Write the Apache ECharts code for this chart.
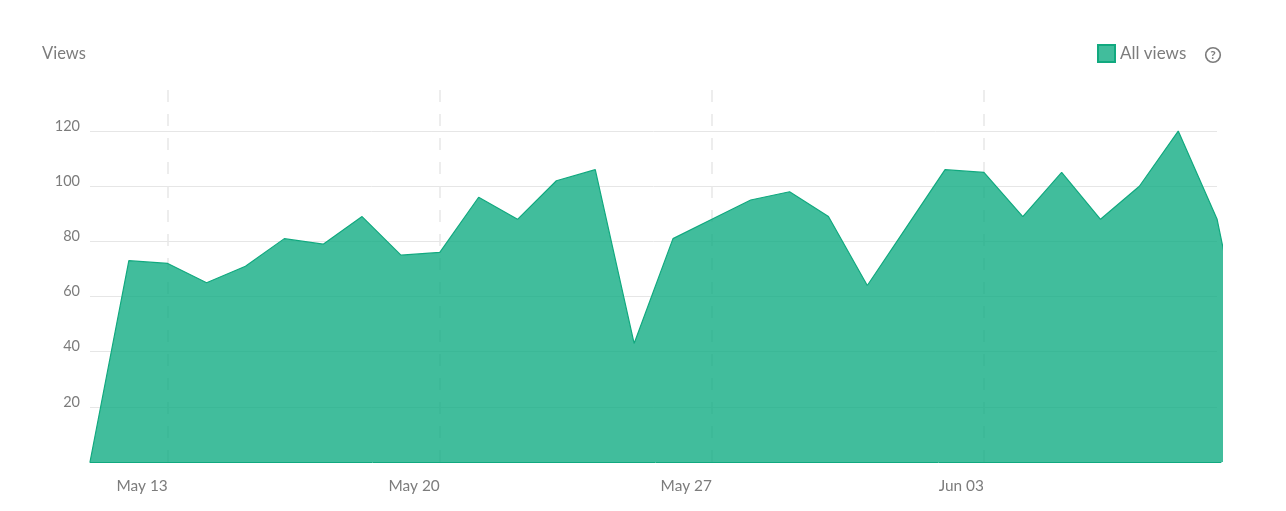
<!DOCTYPE html>
<html><head><meta charset="utf-8">
<style>html,body{margin:0;padding:0;background:#fff}#c{width:1286px;height:511px}</style>
<script src="https://cdn.jsdelivr.net/npm/echarts@6/dist/echarts.min.js"></script>
</head><body><div id="c"></div>
<script>
const dates = ["May 11","May 12","May 13","May 14","May 15","May 16","May 17","May 18","May 19","May 20","May 21","May 22","May 23","May 24","May 25","May 26","May 27","May 28","May 29","May 30","May 31","Jun 01","Jun 02","Jun 03","Jun 04","Jun 05","Jun 06","Jun 07","Jun 08","Jun 09","Jun 10"];
const views = [0,73,72,65,71,81,79,89,75,76,96,88,102,106,43,81,88,95,98,89,64,85,106,105,89,105,88,100,120,88,20];
const weekTicks = [2,9,16,23];
const yTicks = [20,40,60,80,100,120];
const seriesName = "All views";
const yTitle = "Views";
const green = "#11a97f", fill = "#12ad83", grey = "#7c7c7c", font = "Lato";
const yMax = 134.9, xMax = 29.10;

const chart = echarts.init(document.getElementById('c'), null, {renderer:'canvas'});
chart.setOption({
  animation:false,
  title:{text:yTitle,left:42,top:45,padding:0,textStyle:{fontFamily:font,fontSize:16.5,fontWeight:'normal',color:grey}},
  legend:{left:1097,top:44,padding:0,itemWidth:17,itemHeight:17,itemGap:4,icon:'rect',
    data:[seriesName],textStyle:{fontFamily:font,fontSize:17,color:grey}},
  grid:[
    {left:90,top:90,width:1127,height:372},
    {left:90,top:90,width:1131,height:372}
  ],
  xAxis:[
    {gridIndex:0,type:'value',min:0,max:29,show:false,splitLine:{show:false}},
    {gridIndex:1,type:'value',min:0,max:xMax,
      axisLine:{show:true,lineStyle:{color:green,width:1}},
      axisTick:{show:false,customValues:weekTicks},
      axisLabel:{customValues:weekTicks,align:'right',margin:17,fontFamily:font,fontSize:15.4,color:grey,
        formatter:v=>dates[v]},
      splitLine:{show:true,lineStyle:{color:'#e8e8e8',type:[12,12],width:1.5}}}
  ],
  yAxis:[
    {gridIndex:0,type:'value',min:0,max:yMax,axisLine:{show:false},axisTick:{show:false,customValues:yTicks},
      axisLabel:{customValues:yTicks,margin:10,fontFamily:font,fontSize:14.5,color:grey,verticalAlign:'bottom',lineHeight:10},
      splitLine:{show:true,lineStyle:{color:'#e6e6e6',width:1}}},
    {gridIndex:1,type:'value',min:0,max:yMax,show:false,splitLine:{show:false}}
  ],
  series:[{
    name:seriesName,type:'line',xAxisIndex:1,yAxisIndex:1,
    data:views.map((v,i)=>[i,v]),symbol:'none',smooth:false,clip:true,
    lineStyle:{color:green,width:1.2},
    areaStyle:{color:fill,opacity:0.8},
    itemStyle:{color:'rgba(18,173,131,0.8)',borderColor:green,borderWidth:1.5}
  }],
  graphic:[
    {type:'circle',shape:{cx:1213,cy:55,r:7.3},style:{fill:'none',stroke:'#7c7c7c',lineWidth:1.6}},
    {type:'text',x:1213,y:55.5,style:{text:'?',fontFamily:font,fontWeight:'bold',fontSize:12,fill:'#7c7c7c',align:'center',verticalAlign:'middle'}}
  ]
});
</script></body></html>
